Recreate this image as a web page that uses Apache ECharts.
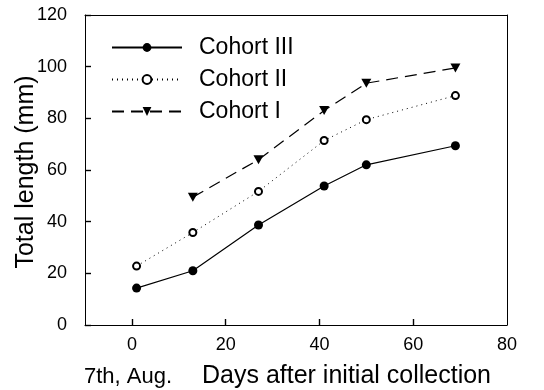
<!DOCTYPE html>
<html><head><meta charset="utf-8">
<script src="https://cdn.jsdelivr.net/npm/echarts@6/dist/echarts.min.js"></script>
<style>html,body{margin:0;padding:0;background:#fff}#c{width:544px;height:390px}</style>
</head><body><div id="c"></div>
<script>
var days1 = [13, 27, 41, 50, 69];
var cohortI = [49.5, 64, 83, 93.6, 99.5];
var days2 = [1, 13, 27, 41, 50, 69];
var cohortII = [22.8, 35.8, 51.7, 71.4, 79.5, 88.8];
var days3 = [1, 13, 27, 41, 50, 69];
var cohortIII = [14.3, 21, 38.7, 53.8, 62, 69.4];
var xTicks = [0, 20, 40, 60, 80];
var xTickMarks = [0, 20, 40, 60];
var seriesNames = ['Cohort III', 'Cohort II', 'Cohort I'];
var FONT = '"Liberation Sans", Arial, sans-serif';

function pairs(xs, ys) { return xs.map(function (x, i) { return [x, ys[i]]; }); }

var frameAxis = {
  axisLine: { show: true, onZero: false, lineStyle: { color: '#000', width: 1 } },
  axisTick: { show: false }, axisLabel: { show: false }, splitLine: { show: false }
};

var chart = echarts.init(document.getElementById('c'), null, { renderer: 'canvas' });
chart.setOption({
  animation: false,
  backgroundColor: '#fff',
  textStyle: { fontFamily: FONT, color: '#000' },
  grid: { left: 85, right: 37, top: 15, bottom: 65 },
  legend: {
    data: seriesNames,
    orient: 'vertical',
    left: 106, top: 31,
    itemWidth: 70, itemHeight: 11, itemGap: 9,
    textStyle: { fontFamily: FONT, fontSize: 23, color: '#000', padding: [0, 0, 0, 12], lineHeight: 22 },
    selectedMode: false
  },
  xAxis: [{
    type: 'value', min: -10, max: 80, position: 'bottom',
    axisLine: { show: true, onZero: false, lineStyle: { color: '#000', width: 1 } },
    splitLine: { show: false },
    axisTick: { show: true, inside: true, length: 6, lineStyle: { color: '#000', width: 1.4 }, customValues: xTickMarks },
    axisLabel: { color: '#000', fontSize: 18, fontFamily: FONT, margin: 11, customValues: xTicks }
  }, Object.assign({ type: 'value', min: -10, max: 80, position: 'top' }, frameAxis)],
  yAxis: [{
    type: 'value', min: 0, max: 120, interval: 20, position: 'left',
    axisLine: { show: true, onZero: false, lineStyle: { color: '#000', width: 1 } },
    splitLine: { show: false },
    axisTick: { show: true, inside: true, length: 6, lineStyle: { color: '#000', width: 1.4 } },
    axisLabel: { color: '#000', fontSize: 18, fontFamily: FONT, margin: 18 }
  }, Object.assign({ type: 'value', min: 0, max: 120, position: 'right' }, frameAxis)],
  graphic: [
    { type: 'text', x: 26, y: 172, rotation: Math.PI / 2,
      style: { text: 'Total length (mm)', fontSize: 25, fontFamily: FONT, fill: '#000', align: 'center', verticalAlign: 'middle' } },
    { type: 'text', left: 84, top: 366, style: { text: '7th, Aug.', fontSize: 22, fontFamily: FONT, fill: '#000' } },
    { type: 'text', left: 202, top: 364, style: { text: 'Days after initial collection', fontSize: 25, fontFamily: FONT, fill: '#000' } }
  ],
  series: [
    {
      name: 'Cohort III', type: 'line', data: pairs(days3, cohortIII),
      symbol: 'circle', symbolSize: 9,
      itemStyle: { color: '#000' },
      lineStyle: { color: '#000', width: 1.2, type: 'solid' }
    },
    {
      name: 'Cohort II', type: 'line', data: pairs(days2, cohortII),
      symbol: 'emptyCircle', symbolSize: 7,
      itemStyle: { color: '#000', borderWidth: 1.2 },
      lineStyle: { color: '#000', width: 1, type: [1, 4] }
    },
    {
      name: 'Cohort I', type: 'line', data: pairs(days1, cohortI),
      symbol: 'triangle', symbolRotate: 180, symbolSize: [10, 9],
      itemStyle: { color: '#000' },
      lineStyle: { color: '#000', width: 1.2, type: [12, 7] }
    }
  ]
});
</script>
</body></html>
